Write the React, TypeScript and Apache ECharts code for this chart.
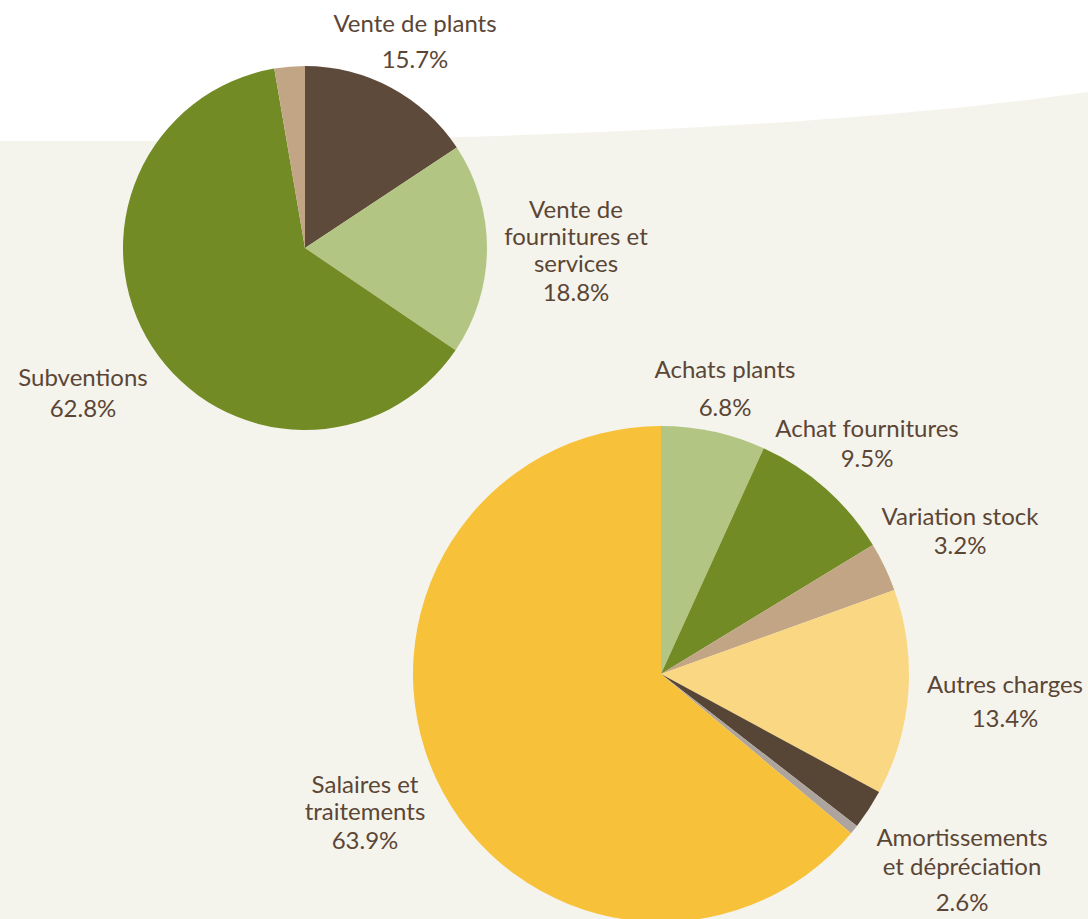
import React, { useEffect, useRef } from "react";
import * as echarts from "echarts";

// Revenue pie (top)
const revenueNames = ["Vente de plants", "Vente de\nfournitures et\nservices", "Subventions", "Autres produits"];
const revenueValues = [15.7, 18.8, 62.8, 2.7];
const revenueShowLabel = [true, true, true, false];

// Expenses pie (bottom)
const expenseNames = [
  "Achats plants",
  "Achat fournitures",
  "Variation stock",
  "Autres charges",
  "Amortissements\net dépréciation",
  "Divers",
  "Salaires et\ntraitements",
];
const expenseValues = [6.8, 9.5, 3.2, 13.4, 2.6, 0.6, 63.9];
const expenseShowLabel = [true, true, true, true, true, false, true];

const revenueColors = ["#5e4a3a", "#b3c583", "#738b25", "#c2a585"];
const expenseColors = ["#b3c583", "#738b25", "#c2a585", "#fad783", "#574536", "#ada49d", "#f7c13a"];

const TEXT = "#5b4636";
const FONT = "Lato, 'Open Sans', sans-serif";
const FS = 24;

// label placement (x center, y top, name line height, percent line height)
const revenueLabelPos = [
  { x: 415, y: 7, n: 30, p: 42 },
  { x: 576, y: 195, n: 27, p: 31 },
  { x: 83, y: 361, n: 30, p: 32 },
  { x: 0, y: 0, n: 30, p: 30 },
];
const expenseLabelPos = [
  { x: 725, y: 353, n: 30, p: 46 },
  { x: 867, y: 412, n: 30, p: 30 },
  { x: 960, y: 501, n: 29, p: 29 },
  { x: 1005, y: 668, n: 30, p: 38 },
  { x: 962, y: 822, n: 29, p: 43 },
  { x: 0, y: 0, n: 30, p: 30 },
  { x: 365, y: 770, n: 27, p: 31 },
];

function buildRich(pos: { n: number; p: number }[]) {
  const rich: Record<string, any> = {};
  pos.forEach((q, i) => {
    rich["n" + i] = { fontSize: FS, fontFamily: FONT, color: TEXT, lineHeight: q.n, align: "center" };
    rich["p" + i] = { fontSize: FS, fontFamily: FONT, color: TEXT, lineHeight: q.p, align: "center" };
  });
  return rich;
}

function makeSeries(
  names: string[],
  values: number[],
  colors: string[],
  show: boolean[],
  pos: { x: number; y: number; n: number; p: number }[],
  center: [number, number],
  radius: number
) {
  return {
    type: "pie",
    center,
    radius,
    startAngle: 90,
    clockwise: true,
    avoidLabelOverlap: false,
    emphasis: { scale: false },
    itemStyle: { borderWidth: 0 },
    labelLine: { show: false },
    label: {
      show: true,
      position: "outside",
      formatter: (p: any) => {
        const i = p.dataIndex;
        const lines = String(p.name).split("\n").map((l) => `{n${i}|${l}}`);
        return lines.join("\n") + `\n{p${i}|${p.value}%}`;
      },
      rich: buildRich(pos),
    },
    labelLayout: (params: any) => {
      const q = pos[params.dataIndex];
      return { x: q.x, y: q.y, align: "center", verticalAlign: "top" };
    },
    data: names.map((name, i) => ({
      name,
      value: values[i],
      itemStyle: { color: colors[i] },
      label: { show: show[i] },
    })),
  };
}

export default function App() {
  const ref = useRef<HTMLDivElement>(null);
  useEffect(() => {
    document.body.style.margin = "0";
    if (!ref.current) return;
    echarts.graphic.registerShape(
      "bgcurve",
      echarts.graphic.extendPath("M0,141 L150,141 C600,141 900,118 1088,92 L1088,919 L0,919 Z", {})
    );
    const chart = echarts.init(ref.current, undefined, { renderer: "svg" });
    chart.setOption({
      animation: false,
      backgroundColor: "#ffffff",
      graphic: [
        {
          type: "bgcurve",
          x: 0,
          y: 0,
          z: -10,
          silent: true,
          style: { fill: "#f5f4ec" },
        },
      ],
      series: [
        makeSeries(revenueNames, revenueValues, revenueColors, revenueShowLabel, revenueLabelPos, [305, 248], 182),
        makeSeries(expenseNames, expenseValues, expenseColors, expenseShowLabel, expenseLabelPos, [661, 674], 248),
      ],
    });
    return () => chart.dispose();
  }, []);
  return <div ref={ref} style={{ width: 1088, height: 919 }} />;
}
